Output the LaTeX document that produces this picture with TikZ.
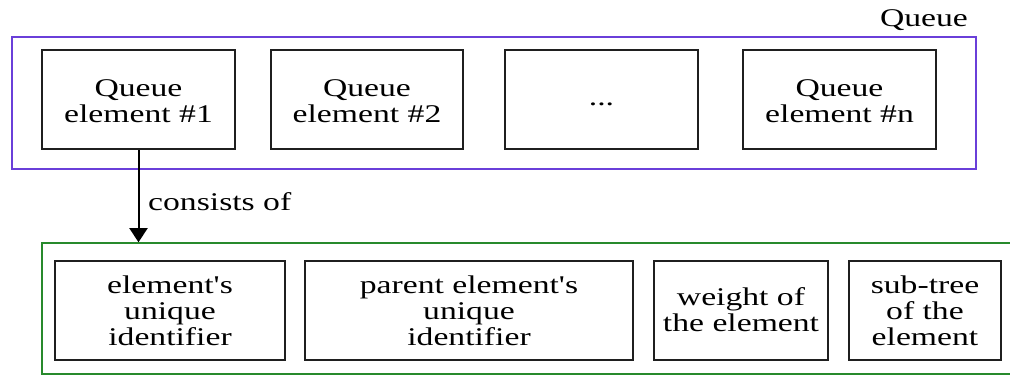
\documentclass[tikz,border=0pt]{standalone}
\usepackage{fontspec}
\setmainfont{Liberation Serif}
\usetikzlibrary{arrows.meta}
\definecolor{qpurple}{RGB}{106,63,217}
\definecolor{cgreen}{RGB}{40,138,44}
\newcommand{\wtext}[2][-5pt]{\raisebox{#1}[\height][\depth]{\scalebox{1.32}[1]{\begin{tabular}{@{}c@{}}#2\end{tabular}}}}
\tikzset{
  elembox/.style={draw=black!88, line width=2pt, rectangle, inner sep=0pt, minimum height=99pt,
    font=\fontsize{25.5pt}{26pt}\selectfont, align=center},
  groupbox/.style={rectangle, inner sep=0pt, line width=1.6pt},
  lbl/.style={font=\fontsize{25.5pt}{26pt}\selectfont, inner sep=0pt}
}
\begin{document}
\begin{tikzpicture}[x=1pt,y=-1pt]
\useasboundingbox (0,0) rectangle (1010,375);
% queue group
\node[groupbox, draw=qpurple, minimum width=964pt, minimum height=132pt] (queue) at (494,103) {};
\node[lbl, anchor=base] (qlabel) at (924,26) {\scalebox{1.32}[1]{Queue}};
\node[elembox, minimum width=193pt] (q1) at (138.5,99.5) {\wtext{Queue\\element \#1}};
\node[elembox, minimum width=192pt] (q2) at (367,99.5) {\wtext{Queue\\element \#2}};
\node[elembox, minimum width=193pt] (q3) at (601.5,99.5) {\wtext[-1pt]{...}};
\node[elembox, minimum width=193pt] (q4) at (839.5,99.5) {\wtext{Queue\\element \#n}};
% element group
\node[groupbox, draw=cgreen, minimum width=990pt, minimum height=131pt] (elem) at (537,308.5) {};
\node[elembox, minimum width=230pt] (e1) at (170,310.5) {\wtext[-4pt]{element\textquotesingle s\\unique\\identifier}};
\node[elembox, minimum width=328pt] (e2) at (469,310.5) {\wtext[-4pt]{parent element\textquotesingle s\\unique\\identifier}};
\node[elembox, minimum width=174pt] (e3) at (741,310.5) {\wtext[-2.5pt]{weight of\\the element}};
\node[elembox, minimum width=152pt] (e4) at (925,310.5) {\wtext[-4pt]{sub-tree\\of the\\element}};
% connector
\draw[line width=2pt, -{Triangle[length=14pt,width=18pt]}] (q1.south) -- (q1.south |- elem.north);
\node[lbl, anchor=base west] (cons) at (148,210) {\scalebox{1.32}[1]{consists of}};
\end{tikzpicture}
\end{document}
